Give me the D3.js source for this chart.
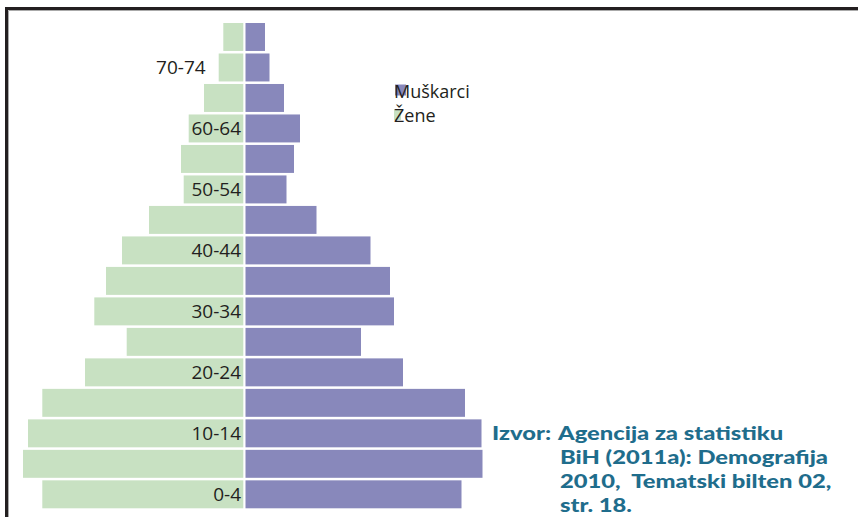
<!DOCTYPE html>
<html lang="bs">
<head>
  <meta charset="UTF-8">
  <title>Starosna piramida</title>
  <script src="https://d3js.org/d3.v7.min.js"></script>
  <style>
    body {
      margin: 0;
      padding: 0;
      background: #fff;
    }
    svg text {
      font-family: "Open Sans", "Noto Sans", sans-serif;
    }
    .age-label {
      font-size: 19px;
      fill: #231f20;
    }
    .legend-text {
      font-size: 18px;
      fill: #231f20;
    }
    .source {
      font-family: Lato, "Open Sans", sans-serif !important;
      font-size: 19.8px;
      font-weight: 900;
      fill: #1f6d8c;
      white-space: pre;
    }
  </style>
</head>
<body>
  <div id="chart"></div>

  <script>
    // age groups, bottom to top
    const ageGroups = ["0-4", "5-9", "10-14", "15-19", "20-24", "25-29", "30-34", "35-39",
      "40-44", "45-49", "50-54", "55-59", "60-64", "65-69", "70-74", "75+"];
    const shownLabels = ["0-4", "10-14", "20-24", "30-34", "40-44", "50-54", "60-64", "70-74"];

    // values (arbitrary units)
    const muskarci = [216, 237, 236, 219.5, 157.5, 115.5, 148.5, 144.5,
      125, 71, 41, 48.5, 54.5, 38.5, 24, 19.5];
    const zene = [201, 220.3, 215.3, 201, 158.3, 116.6, 149, 137.3,
      121.3, 94.3, 59.6, 62.3, 54.6, 39.3, 24.6, 20];

    const legendItems = ["Muškarci", "Žene"];
    const sourceLines = [
      "Agencija za statistiku",
      "BiH (2011a): Demografija",
      "2010,  Tematski bilten 02,",
      "str. 18."
    ];

    const width = 858, height = 517;
    const green = "#c8e1c2", purple = "#8888bb";

    const svg = d3.select("#chart").append("svg")
      .attr("width", width)
      .attr("height", height);

    // frame (runs off the right and bottom edge)
    svg.append("rect")
      .attr("x", 6.5).attr("y", 8.5)
      .attr("width", 900).attr("height", 600)
      .attr("fill", "none")
      .attr("stroke", "#231f20")
      .attr("stroke-width", 3);
    svg.append("path")
      .attr("d", "M8.5,900V10.5H900")
      .attr("fill", "none")
      .attr("stroke", "#aaa")
      .attr("stroke-width", 1);

    const y = d3.scaleBand()
      .domain(ageGroups.slice().reverse())
      .range([23, 508.3])
      .paddingInner(0.083)
      .paddingOuter(0);

    const xM = d3.scaleLinear().domain([0, 240]).range([245.5, 485.5]);
    const xZ = d3.scaleLinear().domain([0, 240]).range([243.3, 3.3]);

    const rows = ageGroups.map((g, i) => ({ group: g, m: muskarci[i], z: zene[i] }));

    svg.selectAll(".bar-z")
      .data(rows)
      .enter().append("rect")
      .attr("class", "bar-z")
      .attr("x", d => xZ(d.z))
      .attr("y", d => y(d.group))
      .attr("width", d => xZ(0) - xZ(d.z))
      .attr("height", y.bandwidth())
      .attr("fill", green);

    svg.selectAll(".bar-m")
      .data(rows)
      .enter().append("rect")
      .attr("class", "bar-m")
      .attr("x", xM(0))
      .attr("y", d => y(d.group))
      .attr("width", d => xM(d.m) - xM(0))
      .attr("height", y.bandwidth())
      .attr("fill", purple);

    // age labels, right-aligned inside the female bar; outside if it does not fit
    svg.selectAll(".age-label")
      .data(rows.filter(d => shownLabels.includes(d.group)))
      .enter().append("text")
      .attr("class", "age-label")
      .attr("text-anchor", "end")
      .attr("y", d => y(d.group) + y.bandwidth() / 2)
      .attr("dy", "0.35em")
      .text(d => d.group)
      .attr("x", function (d) {
        const w = this.getComputedTextLength();
        const barW = xZ(0) - xZ(d.z);
        return w + 4 > barW ? xZ(d.z) - 13 : 241;
      });

    // legend
    const legend = svg.append("g").attr("transform", "translate(394,0)");
    legendItems.forEach((name, i) => {
      const base = 97.5 + i * 24.5;
      legend.append("rect")
        .attr("x", i === 0 ? 1 : 0)
        .attr("y", base - 13)
        .attr("width", i === 0 ? 11 : 7)
        .attr("height", 11)
        .attr("fill", i === 0 ? purple : green);
      legend.append("text")
        .attr("class", "legend-text")
        .attr("x", 0)
        .attr("y", base)
        .text(name);
    });

    // source note, hanging indent; stretched a bit to match the wide bold face
    const sx = 1.2;
    const src = svg.append("g")
      .attr("transform", `translate(492,0) scale(${sx},1)`);
    src.append("text")
      .attr("class", "source")
      .attr("x", 0)
      .attr("y", 440)
      .text("Izvor:");
    src.selectAll(".source-line")
      .data(sourceLines)
      .enter().append("text")
      .attr("class", "source source-line")
      .attr("x", (d, i) => (i === 0 ? 66 : 68) / sx)
      .attr("y", (d, i) => 440 + i * 24)
      .text(d => d);
  </script>
</body>
</html>
